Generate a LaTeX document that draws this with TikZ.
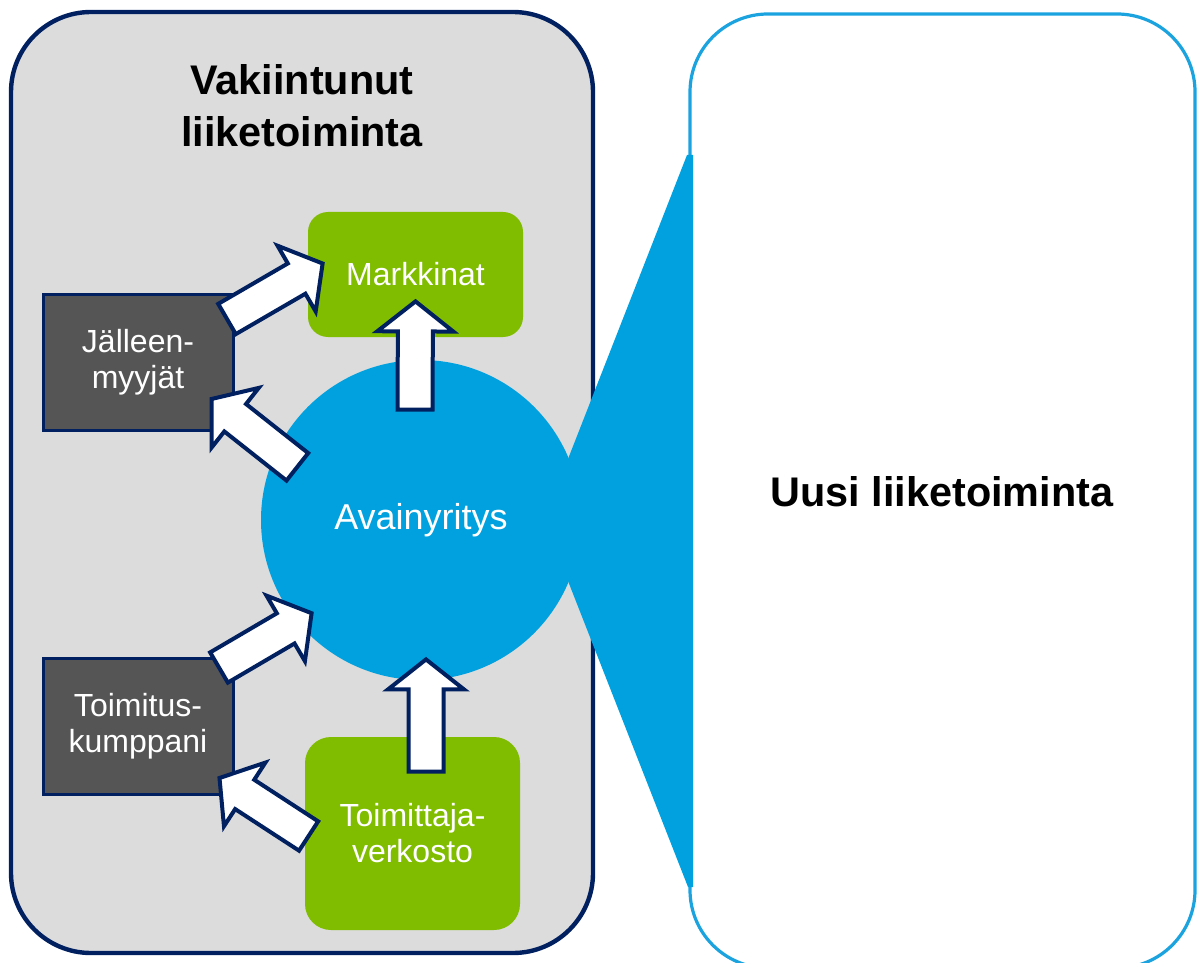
\documentclass[tikz,border=0pt]{standalone}
\usepackage{fontspec}
\setmainfont{Liberation Sans}
\usetikzlibrary{calc}

\definecolor{navy}{RGB}{0,32,96}
\definecolor{panelgray}{RGB}{220,220,220}
\definecolor{boxgray}{RGB}{85,85,85}
\definecolor{leafgreen}{RGB}{128,188,0}
\definecolor{keyblue}{RGB}{0,161,222}
\definecolor{edgeblue}{RGB}{27,163,224}

% wide white arrow from #1 (tail) to #2 (tip)
\newcommand{\blockarrow}[2]{%
  \draw[arrowbody] let \p1=(#1), \p2=(#2),
      \n1={atan2(\y2-\y1,\x2-\x1)}, \n2={veclen(\x2-\x1,\y2-\y1)} in
    ($(\p1)+(\n1+90:8.75pt)$) -- ($(\p1)+(\n1:\n2-15pt)+(\n1+90:8.75pt)$)
    -- ($(\p1)+(\n1:\n2-15pt)+(\n1+90:19pt)$) -- (\p2)
    -- ($(\p1)+(\n1:\n2-15pt)+(\n1-90:19pt)$) -- ($(\p1)+(\n1:\n2-15pt)+(\n1-90:8.75pt)$)
    -- ($(\p1)+(\n1-90:8.75pt)$) -- cycle;}

\begin{document}
\begin{tikzpicture}[x=0.5pt,y=-0.5pt,
    panel/.style={line width=2.2pt, draw=navy, fill=panelgray, rounded corners=40pt},
    newpanel/.style={line width=1.6pt, draw=edgeblue, fill=white, rounded corners=39pt},
    titletext/.style={font=\bfseries\fontsize{20.7}{26}\selectfont, align=center},
    plaintext/.style={font=\fontsize{16}{18}\selectfont, align=center, text=white},
    darkbox/.style={plaintext, draw=navy, line width=1.5pt, fill=boxgray,
      minimum width=95pt, minimum height=68pt, inner sep=0pt},
    greenbox/.style={plaintext, fill=leafgreen, inner sep=0pt},
    arrowbody/.style={draw=navy, fill=white, line width=2pt, line join=miter}]
    \clip (0,0) rectangle (1197,962);

    % Panels
    \draw[panel] (11,12) rectangle (593,953);
    \draw[newpanel] (690,14) rectangle (1195,968);
    \node[titletext] (vakiintunut) at (302,106) {Vakiintunut\\liiketoiminta};
    \node[titletext] (uusi) at (942,492) {Uusi liiketoiminta};

    % Key company and the funnel
    \node[circle, fill=keyblue, minimum size=160pt, inner sep=0pt,
      plaintext, font=\fontsize{18}{20}\selectfont] (avain) at (421,520) {Avainyritys};
    \fill[keyblue] (avain.23) -- (687,155) -- (693,155) -- (693,887) -- (688,887)
      -- (avain.-23) -- cycle;

    % Boxes
    \node[greenbox, rounded corners=10pt, minimum width=107.5pt, minimum height=62.5pt]
      (markkinat) at (415.5,274.5) {Markkinat};
    \node[greenbox, rounded corners=13pt, minimum width=107.5pt, minimum height=96.5pt]
      (verkosto) at (412.5,833.5) {Toimittaja-\\verkosto};
    \node[darkbox] (jalleen) at (138,362.5) {Jälleen-\\myyjät};
    \node[darkbox] (kumppani) at (138,726.5) {Toimitus-\\kumppani};

    % Arrows
    \blockarrow{$(avain.north)+(-6,50)$}{$(markkinat.south)+(0,-36)$}
    \blockarrow{$(jalleen.north east)+(-7.5,26)$}{$(markkinat.west)+(15,-11)$}
    \blockarrow{$(avain.157)+(24,9.5)$}{$(jalleen.south east)+(-23,-33)$}
    \blockarrow{$(kumppani.north east)+(-15.5,10.5)$}{$(avain.210)+(29.5,13)$}
    \blockarrow{$(verkosto.west)+(4,2.5)$}{$(kumppani.south east)+(-15,-18)$}
    \blockarrow{$(verkosto.north)+(13.5,35)$}{$(avain.south)+(5,-21)$}
\end{tikzpicture}
\end{document}
